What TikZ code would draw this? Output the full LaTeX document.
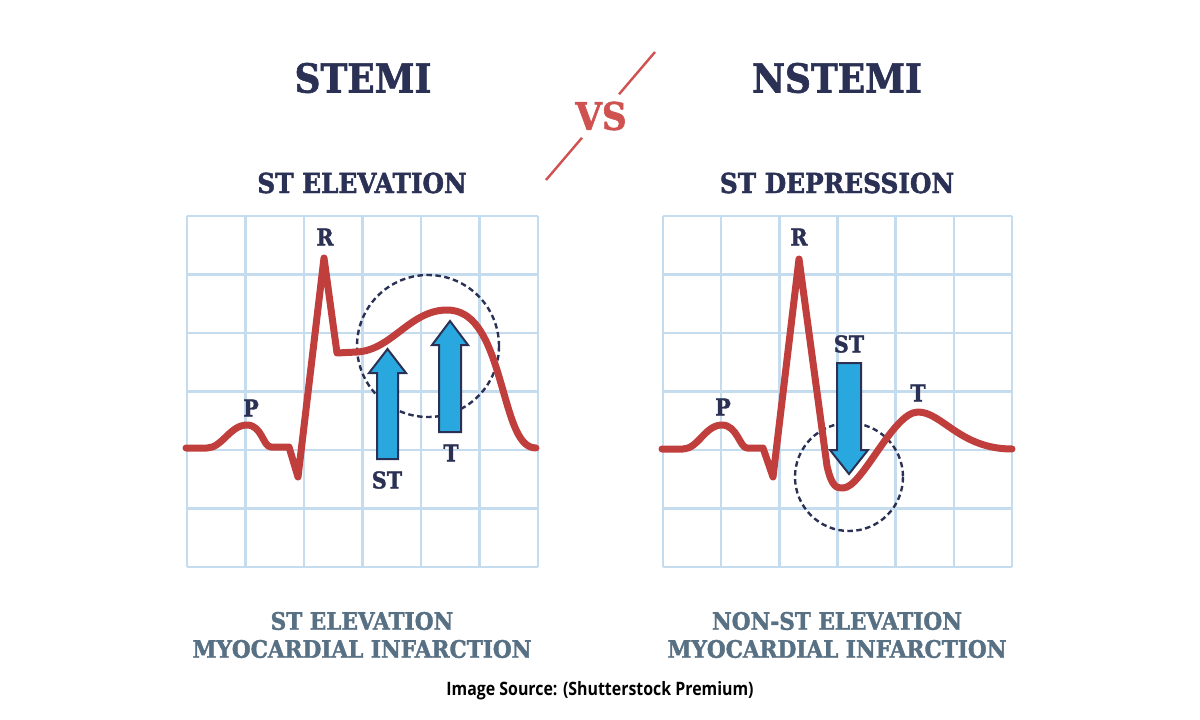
\documentclass[tikz,border=0pt]{standalone}
\usepackage{fontspec}
\usetikzlibrary{calc}
\newfontfamily\slabfont[FakeStretch=0.9,BoldFont={DejaVu Serif Bold},BoldFeatures={FakeBold=1.6}]{DejaVu Serif}
\newfontfamily\srcfont[FakeStretch=0.86]{Open Sans}
\definecolor{navy}{RGB}{43,49,84}
\definecolor{slate}{RGB}{88,112,131}
\definecolor{ecgred}{RGB}{192,62,60}
\definecolor{vsred}{RGB}{208,82,80}
\definecolor{gridblue}{RGB}{197,220,238}
\definecolor{arrowblue}{RGB}{41,168,224}
\tikzset{
  gridline/.style={gridblue,line width=2.6pt},
  ecg/.style={ecgred,line width=7pt,line cap=round,line join=round},
  zone/.style={navy,line width=2.4pt,dash pattern=on 5.5pt off 3.5pt},
  stbar/.style={fill=arrowblue,draw=navy,line width=2pt,line join=miter},
  wave/.style={navy,font=\slabfont\bfseries\fontsize{23}{25}\selectfont,inner sep=0pt},
  title/.style={navy,font=\slabfont\bfseries\fontsize{40}{44}\selectfont,inner sep=0pt},
  subtitle/.style={navy,font=\slabfont\bfseries\fontsize{27.5}{30}\selectfont,inner sep=0pt},
  caption/.style={slate,font=\slabfont\bfseries\fontsize{24}{30}\selectfont,align=center,inner sep=0pt}
}
\begin{document}
\begin{tikzpicture}[x=1pt,y=-1pt]
  \fill[white] (0,0) rectangle (1200,720);
  \useasboundingbox (0,0) rectangle (1200,720);
  %% headings
  \node[title] (stemi) at (363,78) {STEMI};
  \node[title] (nstemi) at (837,78) {NSTEMI};
  \node[vsred,font=\slabfont\bfseries\fontsize{38}{40}\selectfont,inner sep=0pt] (vs) at (601,116) {VS};
  \coordinate (slashtop) at (655,52);
  \coordinate (slashbot) at (546,180);
  \draw[vsred,line width=2.4pt] (slashtop) -- ($(slashtop)!0.33!(slashbot)$);
  \draw[vsred,line width=2.4pt] ($(slashtop)!0.67!(slashbot)$) -- (slashbot);
  \node[subtitle] (elev) at (362,183) {ST ELEVATION};
  \node[subtitle] (depr) at (837,183) {ST DEPRESSION};
  %% grids
  \foreach \i in {0,...,6} {
    \draw[gridline] ({187+58.5*\i},216) -- ({187+58.5*\i},567);
    \draw[gridline] (187,{216+58.5*\i}) -- (538,{216+58.5*\i});
    \draw[gridline] ({663+58.17*\i},216) -- ({663+58.17*\i},567);
    \draw[gridline] (663,{216+58.5*\i}) -- (1012,{216+58.5*\i});
  }
  %% stemi trace
  \draw[zone] (428,346) circle (71);
  \draw[ecg] (186,448) -- (207,448) .. controls (222,448) and (230,425) .. (247,425)
    .. controls (262,425) and (263,447) .. (271,447) -- (289,447) -- (298,477)
    -- (324,258) -- (337,353) -- (357,352)
    .. controls (392,350) and (410,310) .. (447,310)
    .. controls (473,310) and (486,335) .. (497,370)
    .. controls (510,412) and (516,448) .. (536,448);
  \draw[stbar] (377,459) -- (377,373) -- (369,373) -- (387.5,349) -- (406,373) -- (398,373) -- (398,459) -- cycle;
  \draw[stbar] (439,432) -- (439,345) -- (432,345) -- (450,321) -- (468,345) -- (461,345) -- (461,432) -- cycle;
  \node[wave] (pl) at (251,408) {P};
  \node[wave] (rl) at (325,237) {R};
  \node[wave] (stl) at (387,480) {ST};
  \node[wave] (tl) at (451,453) {T};
  %% nstemi trace
  \draw[zone] (849,477) circle (54);
  \draw[ecg] (662,449) -- (683,449) .. controls (698,449) and (705,425) .. (722,425)
    .. controls (737,425) and (740,448) .. (747,448) -- (763,448) -- (773,477)
    -- (799,259) -- (827,466)
    .. controls (832,488) and (837,488) .. (843,488)
    .. controls (862,488) and (893,412) .. (918,412)
    .. controls (942,412) and (960,449) .. (1012,449);
  \draw[stbar] (837,363) -- (861,363) -- (861,450) -- (868,450) -- (849,474) -- (830,450) -- (837,450) -- cycle;
  \node[wave] (pr) at (723,407) {P};
  \node[wave] (rr) at (799,237) {R};
  \node[wave] (str) at (849,344) {ST};
  \node[wave] (tr) at (918,393) {T};
  %% captions
  \node[caption] (capl) at (362,635) {ST ELEVATION\\[-2pt]MYOCARDIAL INFARCTION};
  \node[caption] (capr) at (837,635) {NON-ST ELEVATION\\[-2pt]MYOCARDIAL INFARCTION};
  \node[font=\srcfont\bfseries\fontsize{18.5}{20}\selectfont,inner sep=0pt] (src) at (600,691) {Image Source: (Shutterstock Premium)};
\end{tikzpicture}
\end{document}
